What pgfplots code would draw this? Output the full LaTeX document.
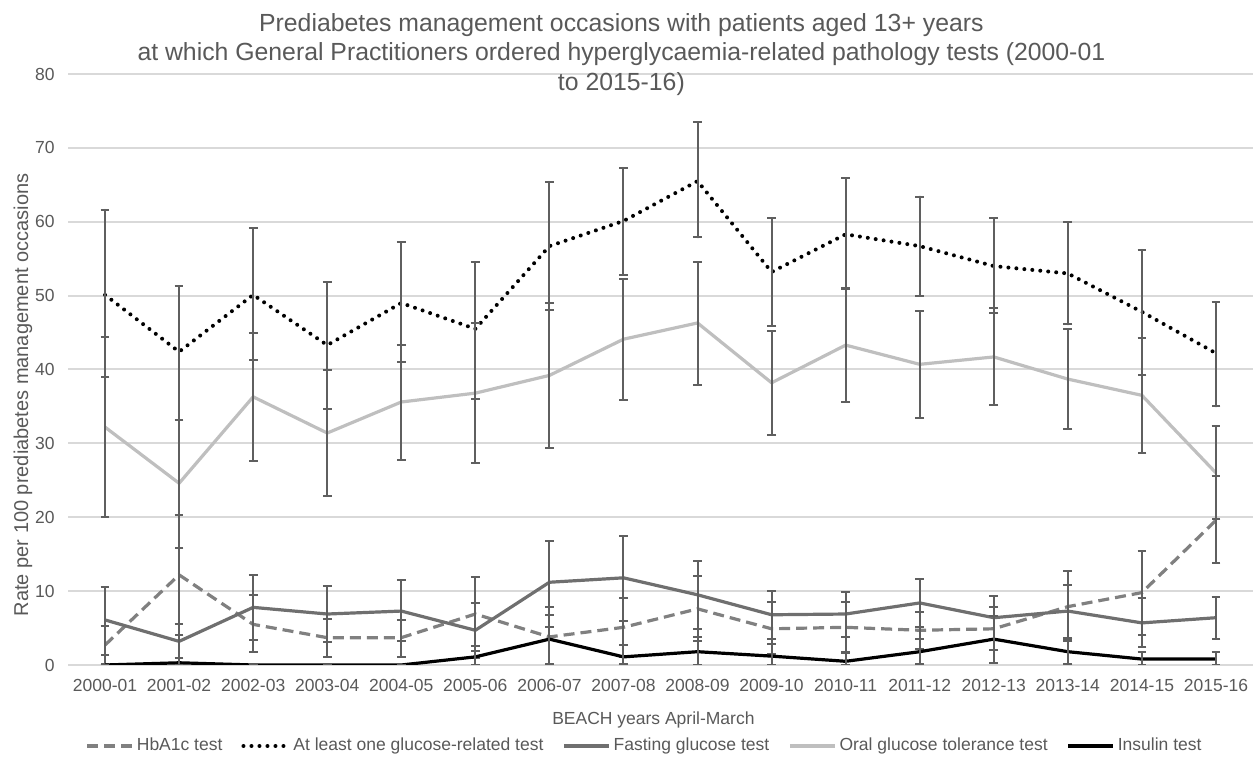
\documentclass[border=0pt]{standalone}
\usepackage{fontspec}
\setmainfont{Liberation Sans}
\usepackage{pgfplots}
\usepackage{pgfplotstable}
\pgfplotsset{compat=1.18}
\definecolor{txt}{HTML}{595959}
\definecolor{gridc}{HTML}{D9D9D9}
\definecolor{hbac}{HTML}{808080}
\definecolor{fastc}{HTML}{6F6F6F}
\definecolor{ogttc}{HTML}{BFBFBF}
\definecolor{ebar}{HTML}{5F5F5F}
\pgfplotsset{eb/.style={error bars/.cd, y dir=both, y explicit,
  error bar style={ebar, line width=1pt, solid},
  error mark options={rotate=90, ebar, line width=1pt, mark size=2.2pt, solid}}}

\pgfplotstableread{
x y ep em
0 2.7 2.6 2.6
1 12.2 8.1 8.1
2 5.5 4.0 3.7
3 3.7 2.5 2.6
4 3.7 2.4 2.6
5 6.9 5.0 5.0
6 3.8 4.0 3.7
7 5.1 4.0 4.0
8 7.6 4.4 4.3
9 4.9 3.6 3.4
10 5.1 3.4 3.4
11 4.7 2.5 2.5
12 4.9 2.9 2.9
13 7.9 4.8 4.6
14 9.8 5.6 5.7
15 19.6 6.0 5.8
}\hbatab

\pgfplotstableread{
x y ep em
0 50.1 11.5 11.1
1 42.4 8.9 9.2
2 50.1 9.0 8.8
3 43.3 8.5 8.7
4 49.0 8.2 8.0
5 45.5 9.0 9.5
6 56.7 8.7 8.7
7 60.1 7.2 7.3
8 65.5 8.0 7.6
9 53.2 7.3 7.3
10 58.3 7.6 7.4
11 56.7 6.7 6.7
12 54.0 6.5 6.4
13 53.0 6.9 6.9
14 47.8 8.4 8.6
15 42.2 6.9 7.2
}\anytab

\pgfplotstableread{
x y ep em
0 6.1 4.5 4.7
1 3.2 2.3 2.3
2 7.8 4.4 4.4
3 6.9 3.8 3.8
4 7.3 4.2 4.1
5 4.7 3.7 3.7
6 11.2 5.6 6.0
7 11.8 5.7 5.8
8 9.5 4.6 4.6
9 6.8 3.2 3.3
10 6.9 3.0 3.1
11 8.4 3.2 3.2
12 6.4 2.9 2.9
13 7.3 3.5 3.6
14 5.7 3.4 3.3
15 6.4 2.8 2.9
}\fasttab

\pgfplotstableread{
x y ep em
0 32.2 12.2 12.2
1 24.6 8.6 8.8
2 36.3 8.6 8.7
3 31.4 8.5 8.5
4 35.6 7.7 7.9
5 36.8 9.5 9.5
6 39.2 9.8 9.8
7 44.1 8.1 8.2
8 46.3 8.2 8.4
9 38.2 7.0 7.1
10 43.3 7.7 7.7
11 40.7 7.2 7.2
12 41.7 6.6 6.5
13 38.7 6.8 6.8
14 36.5 7.8 7.8
15 26.0 6.3 6.3
}\ogtttab

\pgfplotstableread{
x y ep em
0 0.0 0.0 0.0
1 0.3 0.6 0.3
2 0.0 0.0 0.0
3 0.0 0.0 0.0
4 0.0 0.0 0.0
5 1.1 1.5 1.1
6 3.5 3.3 3.3
7 1.1 1.6 0.9
8 1.8 2.0 1.8
9 1.2 1.6 1.2
10 0.5 1.1 0.5
11 1.8 1.7 1.7
12 3.5 3.2 3.2
13 1.8 1.7 1.7
14 0.8 1.0 0.8
15 0.8 1.0 0.8
}\instab

\begin{document}
\begin{tikzpicture}
\begin{axis}[
  name=ax,
  scale only axis,
  width=592.5pt, height=295.5pt,
  xmin=-0.5, xmax=15.5, ymin=0, ymax=80,
  xtick={0,...,15},
  xticklabels={2000-01,2001-02,2002-03,2003-04,2004-05,2005-06,2006-07,2007-08,2008-09,2009-10,2010-11,2011-12,2012-13,2013-14,2014-15,2015-16},
  ytick={0,10,...,80},
  axis line style={draw=none},
  tick style={draw=none},
  major tick length=0pt,
  ymajorgrids,
  grid style={gridc, line width=1pt},
  /pgf/number format/assume math mode=true,
  tick label style={font=\fontsize{8.75}{10.5}\selectfont, text=txt, inner sep=0pt},
  xticklabel style={anchor=base, yshift=-13.5pt},
  yticklabel style={anchor=east, xshift=-6.5pt},
  title={Prediabetes management occasions with patients aged 13+ years\\at which General Practitioners ordered hyperglycaemia-related pathology tests (2000-01\\to 2015-16)},
  title style={at={(0.467,1)}, anchor=north, yshift=24.5pt, align=center, inner sep=0pt,
    font=\fontsize{12.4}{14.75}\selectfont, text=txt},
  xlabel={BEACH years April-March},
  xlabel style={at={(axis description cs:0.494,0)}, anchor=base, yshift=-30pt, inner sep=0pt,
    font=\fontsize{8.75}{10.5}\selectfont, text=txt},
  ylabel={Rate per 100 prediabetes management occasions},
  ylabel style={at={(axis description cs:-0.038,0.457)}, anchor=center, inner sep=0pt,
    font=\fontsize{10}{12}\selectfont, text=txt},
  legend columns=5,
  legend style={at={(0.487,0)}, anchor=center, yshift=-40.5pt, draw=none, fill=none,
    font=\fontsize{8.75}{10.5}\selectfont, text=txt,
    /tikz/every even column/.append style={column sep=8pt},
    nodes={inner sep=1.5pt}},
  legend cell align=left,
  legend image code/.code={\draw[#1] (0pt,0pt) -- (22.5pt,0pt);},
]
\addplot[hbac, line width=1.6pt, dash pattern=on 5.5pt off 3pt, line join=round, eb]
  table[x=x, y=y, y error plus=ep, y error minus=em] {\hbatab};
\addlegendentry{HbA1c test}
\addplot[black, line width=2pt, dash pattern=on 0pt off 4pt, line cap=round, line join=round, eb]
  table[x=x, y=y, y error plus=ep, y error minus=em] {\anytab};
\addlegendentry{At least one glucose-related test}
\addplot[fastc, line width=1.6pt, line join=round, eb]
  table[x=x, y=y, y error plus=ep, y error minus=em] {\fasttab};
\addlegendentry{Fasting glucose test}
\addplot[ogttc, line width=1.6pt, line join=round, eb]
  table[x=x, y=y, y error plus=ep, y error minus=em] {\ogtttab};
\addlegendentry{Oral glucose tolerance test}
\addplot[black, line width=1.6pt, line join=round, eb]
  table[x=x, y=y, y error plus=ep, y error minus=em] {\instab};
\addlegendentry{Insulin test}
\end{axis}
\pgfresetboundingbox
\path[use as bounding box] (ax.south west) ++(-34pt,-46.5pt) rectangle ++(628pt,379pt);
\end{tikzpicture}
\end{document}
